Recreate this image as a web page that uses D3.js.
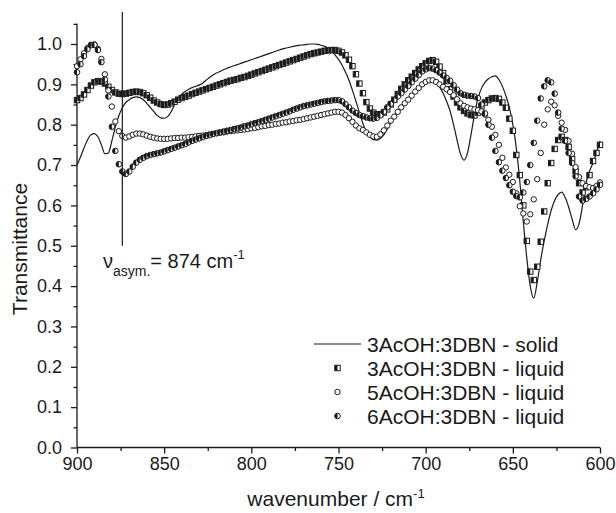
<!DOCTYPE html>
<html><head><meta charset="utf-8">
<script src="https://cdn.jsdelivr.net/npm/d3@7/dist/d3.min.js"></script>
<style>
body{margin:0;background:#fff}
svg{display:block}
text{font-family:"Liberation Sans",Arial,sans-serif;fill:#1a1a1a}
</style></head>
<body><svg id="c" width="616" height="513"></svg>
<script>
// Sampling grid (cm-1), 900 -> 600 every 2 cm-1
const wavenumbers = d3.range(900, 599, -2);

const solid3 = [
0.700,0.720,0.742,0.762,0.775,0.778,0.770,0.750,0.728,0.730,
0.760,0.795,0.822,0.842,0.855,0.862,0.867,0.869,0.867,0.862,
0.853,0.843,0.833,0.823,0.817,0.816,0.820,0.832,0.850,0.865,
0.875,0.882,0.888,0.892,0.895,0.898,0.903,0.910,0.917,0.923,
0.928,0.932,0.936,0.940,0.943,0.946,0.949,0.952,0.955,0.958,
0.961,0.964,0.967,0.970,0.973,0.976,0.979,0.982,0.985,0.988,
0.990,0.992,0.994,0.996,0.997,0.998,0.999,1.000,1.000,0.999,
0.997,0.994,0.990,0.983,0.973,0.962,0.948,0.930,0.910,0.885,
0.858,0.830,0.803,0.782,0.770,0.763,0.762,0.766,0.775,0.789,
0.805,0.818,0.832,0.845,0.856,0.866,0.875,0.884,0.892,0.900,
0.907,0.911,0.910,0.903,0.893,0.878,0.858,0.834,0.800,0.762,
0.727,0.712,0.730,0.775,0.825,0.865,0.890,0.905,0.914,0.919,
0.921,0.912,0.895,0.872,0.843,0.800,0.742,0.660,0.560,0.470,
0.400,0.370,0.410,0.465,0.512,0.553,0.588,0.612,0.627,0.633,
0.620,0.596,0.566,0.540,0.555,0.600,0.655,0.685,0.705,0.730,
0.760];

const liquid3 = [
0.861,0.866,0.875,0.886,0.897,0.905,0.908,0.907,0.902,0.894,
0.886,0.880,0.877,0.876,0.877,0.879,0.881,0.882,0.881,0.878,
0.873,0.867,0.860,0.855,0.851,0.849,0.850,0.853,0.857,0.862,
0.866,0.869,0.872,0.876,0.879,0.882,0.885,0.888,0.891,0.894,
0.897,0.900,0.903,0.906,0.909,0.911,0.913,0.916,0.918,0.921,
0.924,0.927,0.930,0.933,0.936,0.939,0.942,0.945,0.948,0.951,
0.954,0.957,0.960,0.963,0.966,0.969,0.972,0.975,0.977,0.979,
0.981,0.983,0.984,0.985,0.985,0.983,0.979,0.972,0.961,0.945,
0.925,0.902,0.878,0.856,0.840,0.830,0.826,0.826,0.830,0.838,
0.850,0.862,0.876,0.889,0.900,0.910,0.919,0.928,0.937,0.945,
0.952,0.958,0.960,0.956,0.944,0.928,0.908,0.888,0.870,0.855,
0.843,0.834,0.828,0.824,0.823,0.830,0.845,0.855,0.861,0.865,
0.866,0.864,0.855,0.842,0.815,0.785,0.725,0.675,0.600,0.512,
0.436,0.415,0.448,0.510,0.585,0.655,0.705,0.740,0.762,0.770,
0.762,0.745,0.715,0.685,0.655,0.632,0.645,0.675,0.710,0.730,
0.750];

const liquid5 = [
0.945,0.962,0.977,0.990,0.998,0.999,0.988,0.963,0.925,0.885,
0.845,0.808,0.784,0.772,0.768,0.771,0.775,0.778,0.778,0.776,
0.773,0.770,0.768,0.766,0.765,0.765,0.765,0.766,0.767,0.767,
0.768,0.768,0.769,0.770,0.771,0.772,0.773,0.774,0.776,0.777,
0.779,0.780,0.781,0.783,0.784,0.785,0.786,0.787,0.788,0.789,
0.791,0.792,0.794,0.796,0.797,0.799,0.800,0.802,0.803,0.805,
0.806,0.808,0.809,0.811,0.812,0.814,0.816,0.818,0.820,0.822,
0.824,0.826,0.828,0.830,0.832,0.832,0.830,0.824,0.816,0.807,
0.798,0.791,0.787,0.781,0.775,0.771,0.770,0.776,0.786,0.798,
0.810,0.820,0.832,0.843,0.853,0.862,0.872,0.882,0.891,0.900,
0.906,0.910,0.910,0.906,0.900,0.894,0.888,0.881,0.873,0.863,
0.853,0.847,0.843,0.840,0.838,0.836,0.833,0.825,0.812,0.795,
0.775,0.750,0.718,0.694,0.676,0.658,0.630,0.598,0.580,0.560,
0.578,0.615,0.665,0.730,0.800,0.838,0.857,0.848,0.822,0.805,
0.787,0.760,0.728,0.695,0.670,0.655,0.648,0.645,0.643,0.648,
0.657];

const liquid6 = [
0.930,0.950,0.970,0.987,0.997,0.998,0.985,0.955,0.912,0.870,
0.795,0.735,0.702,0.684,0.678,0.684,0.696,0.706,0.713,0.718,
0.722,0.725,0.727,0.729,0.731,0.734,0.737,0.740,0.743,0.746,
0.749,0.752,0.756,0.760,0.763,0.766,0.769,0.772,0.774,0.777,
0.779,0.781,0.783,0.785,0.787,0.789,0.791,0.793,0.796,0.798,
0.801,0.804,0.806,0.809,0.812,0.815,0.818,0.821,0.824,0.827,
0.830,0.833,0.837,0.840,0.843,0.846,0.848,0.850,0.852,0.854,
0.856,0.858,0.859,0.860,0.861,0.861,0.858,0.851,0.843,0.835,
0.829,0.824,0.821,0.818,0.816,0.815,0.817,0.823,0.832,0.843,
0.852,0.861,0.870,0.878,0.887,0.896,0.905,0.914,0.923,0.932,
0.937,0.940,0.939,0.935,0.929,0.922,0.916,0.909,0.898,0.887,
0.878,0.874,0.872,0.871,0.870,0.866,0.850,0.828,0.800,0.768,
0.735,0.707,0.686,0.668,0.650,0.634,0.623,0.620,0.632,0.658,
0.700,0.755,0.810,0.865,0.895,0.910,0.905,0.877,0.830,0.790,
0.760,0.730,0.705,0.672,0.622,0.612,0.616,0.622,0.630,0.640,
0.651];

const xTicks = [900, 850, 800, 750, 700, 650, 600];
const xMinor = [875, 825, 775, 725, 675, 625];
const yTicks = [0.0,0.1,0.2,0.3,0.4,0.5,0.6,0.7,0.8,0.9,1.0];
const yMinor = [0.05,0.15,0.25,0.35,0.45,0.55,0.65,0.75,0.85,0.95,1.05];
const legendLabels = ["3AcOH:3DBN - solid","3AcOH:3DBN - liquid","5AcOH:3DBN - liquid","6AcOH:3DBN - liquid"];
const bandPosition = 874;
const bandLow = 0.5;

const svg = d3.select("#c");
const x = d3.scaleLinear().domain([900, 600]).range([77, 600]);
const y = d3.scaleLinear().domain([0, 1]).range([447.5, 44]);
const ink = "#1a1a1a";

// axes
const gx = svg.append("g").attr("transform", `translate(0,${y(0)})`);
gx.call(d3.axisBottom(x).tickValues(xTicks).tickSize(6).tickPadding(4).tickFormat(d3.format("d")));
const gxm = svg.append("g").attr("transform", `translate(0,${y(0)})`);
gxm.call(d3.axisBottom(x).tickValues(xMinor).tickSize(3.5).tickFormat(""));
const gy = svg.append("g").attr("transform", `translate(${x(900)},0)`);
gy.call(d3.axisLeft(y).tickValues(yTicks).tickSize(6).tickPadding(9).tickFormat(d3.format(".1f")));
const gym = svg.append("g").attr("transform", `translate(${x(900)},0)`);
gym.call(d3.axisLeft(y).tickValues(yMinor).tickSize(3.5).tickFormat(""));
[gx,gxm,gy,gym].forEach(g=>{
  g.select(".domain").remove();
  g.selectAll("line").attr("stroke", ink).attr("stroke-width", 1.3);
  g.selectAll("text").style("font-size","18px").attr("fill", ink);
});
svg.append("line").attr("x1", x(900)).attr("x2", x(600)).attr("y1", y(0)).attr("y2", y(0)).attr("stroke", ink).attr("stroke-width", 1.3);
svg.append("line").attr("x1", x(900)).attr("x2", x(900)).attr("y1", y(0)).attr("y2", y(1.05)).attr("stroke", ink).attr("stroke-width", 1.3);

// titles
const xt = svg.append("text").attr("x", 336).attr("y", 506).attr("text-anchor","middle").style("font-size","21px");
xt.append("tspan").text("wavenumber / cm");
xt.append("tspan").attr("dy", -8).style("font-size","13px").text("-1");
svg.append("text").attr("transform","translate(27,249) rotate(-90)").attr("text-anchor","middle").style("font-size","21px").text("Transmittance");

// solid line
const line = d3.line().x((d,i)=>x(wavenumbers[i])).y(d=>y(d)).curve(d3.curveMonotoneX);
svg.append("path").datum(solid3).attr("d", line).attr("fill","none").attr("stroke", ink).attr("stroke-width", 1.2);

// marker drawers
function squareMarker(g, cx, cy, s) {
  g.append("rect").attr("x", cx - s/2).attr("y", cy - s/2).attr("width", s).attr("height", s)
    .attr("fill", "#fff").attr("stroke", ink).attr("stroke-width", 1);
  g.append("rect").attr("x", cx - s/2).attr("y", cy - s/2).attr("width", s/2).attr("height", s)
    .attr("fill", ink);
}
function openCircle(g, cx, cy, r) {
  g.append("circle").attr("cx", cx).attr("cy", cy).attr("r", r).attr("fill","#fff").attr("stroke", ink).attr("stroke-width", 1);
}
function halfCircle(g, cx, cy, r) {
  g.append("circle").attr("cx", cx).attr("cy", cy).attr("r", r).attr("fill","#fff").attr("stroke", ink).attr("stroke-width", 1);
  g.append("path").attr("d", `M${cx},${cy - r}A${r},${r} 0 0 0 ${cx},${cy + r}Z`).attr("fill", ink);
}

const gS = svg.append("g");
liquid3.forEach((v,i)=>squareMarker(gS, x(wavenumbers[i]), y(v), 5.4));
const gO = svg.append("g");
liquid5.forEach((v,i)=>openCircle(gO, x(wavenumbers[i]), y(v), 2.7));
const gF = svg.append("g");
liquid6.forEach((v,i)=>halfCircle(gF, x(wavenumbers[i]), y(v), 2.8));

// band annotation
svg.append("line").attr("x1", x(bandPosition)).attr("x2", x(bandPosition)).attr("y1", 12).attr("y2", y(bandLow))
  .attr("stroke", ink).attr("stroke-width", 1.2);
const ann = svg.append("text").attr("x", 103).attr("y", 268).style("font-size","20px");
ann.append("tspan").text("\u03BD");
ann.append("tspan").attr("dy", 8).style("font-size","14px").text("asym.");
ann.append("tspan").attr("dy", -8).text("= 874 cm");
ann.append("tspan").attr("dy", -9).style("font-size","13px").text("-1");

// legend
const lg = svg.append("g");
const rows = [344, 368, 392, 416];
lg.append("line").attr("x1", 314).attr("x2", 361).attr("y1", rows[0]).attr("y2", rows[0]).attr("stroke", ink).attr("stroke-width", 1.2);
squareMarker(lg, 337.5, rows[1], 5.4);
openCircle(lg, 337.5, rows[2], 2.7);
halfCircle(lg, 337.5, rows[3], 2.8);
legendLabels.forEach((t,i)=>{
  lg.append("text").attr("x", 367).attr("y", rows[i]).attr("dy","0.36em").style("font-size","21px").text(t);
});
</script>
</body></html>
